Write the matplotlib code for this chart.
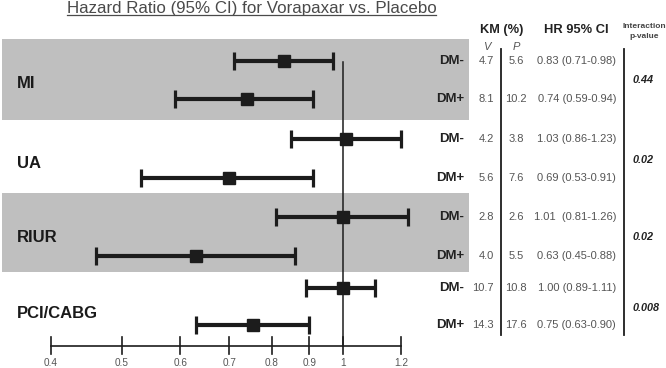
import numpy as np
import matplotlib
matplotlib.use("Agg")
import matplotlib.pyplot as plt
import matplotlib.transforms as mtransforms

plt.rcParams['font.family'] = ['Liberation Sans', 'DejaVu Sans']

# ---------------- data ----------------
groups = ["MI", "UA", "RIUR", "PCI/CABG"]
subgroups = ["DM-", "DM+"]
hr = [0.83, 0.74, 1.01, 0.70, 1.00, 0.63, 1.00, 0.755]
ci_low = [0.71, 0.59, 0.85, 0.53, 0.81, 0.46, 0.89, 0.63]
ci_high = [0.97, 0.91, 1.20, 0.91, 1.225, 0.86, 1.105, 0.90]
km_v = ["4.7", "8.1", "4.2", "5.6", "2.8", "4.0", "10.7", "14.3"]
km_p = ["5.6", "10.2", "3.8", "7.6", "2.6", "5.5", "10.8", "17.6"]
hr_text = ["0.83 (0.71-0.98)", "0.74 (0.59-0.94)", "1.03 (0.86-1.23)",
           "0.69 (0.53-0.91)", "1.01  (0.81-1.26)", "0.63 (0.45-0.88)",
           "1.00 (0.89-1.11)", "0.75 (0.63-0.90)"]
p_interaction = ["0.44", "0.02", "0.02", "0.008"]
xticks = [0.4, 0.5, 0.6, 0.7, 0.8, 0.9, 1, 1.2]
xtick_labels = ["0.4", "0.5", "0.6", "0.7", "0.8", "0.9", "1", "1.2"]

# ---------------- layout (pixel units) ----------------
W, H = 666, 368
row_y = [61, 99, 139, 178, 217, 256, 288, 325]
group_label_y = [83, 163, 238, 313]
pval_y = [80, 160, 237, 308]
bands = [(39, 120), (193, 272)]

fig = plt.figure(figsize=(W / 100, H / 100), dpi=100)
ax = fig.add_axes([0, 0, 1, 1])
ax.set_xscale('log')
# 0.4 -> px 51, 1.0 -> px 343
k = (343 - 51) / np.log(1 / 0.4)
x_lo = 0.4 * np.exp(-51 / k)
x_hi = 0.4 * np.exp((W - 51) / k)
ax.set_xlim(x_lo, x_hi)
ax.set_ylim(H, 0)
ax.axis('off')


def fx(px):
    return px / W


bt = mtransforms.blended_transform_factory(ax.transAxes, ax.transData)
dark = '#1c1c1c'
gray_txt = '#555555'

# bands
for (y0, y1) in bands:
    ax.axhspan(y0, y1, xmin=fx(2), xmax=fx(469), color='#bfbfbf', zorder=0, lw=0)

# reference line at 1
ax.plot([1, 1], [62, 346], color=dark, lw=1.1, zorder=2)

# bottom axis
ax.plot([xticks[0], xticks[-1]], [346, 346], color=dark, lw=1.2, zorder=2)
for t, lab in zip(xticks, xtick_labels):
    ax.plot([t, t], [337, 354], color=dark, lw=1.2, zorder=2)
    ax.text(t, 363, lab, ha='center', va='center', fontsize=7.2, color=gray_txt)

# error bars
xerr = [np.array(hr) - np.array(ci_low), np.array(ci_high) - np.array(hr)]
ax.errorbar(hr, row_y, xerr=xerr, fmt='s', color=dark, ecolor=dark,
            elinewidth=3.0, capsize=6.5, capthick=2.3, markersize=8.5, zorder=3)

# group labels
for g, y in zip(groups, group_label_y):
    ax.text(fx(17), y, g, transform=bt, fontsize=12, fontweight='bold',
            color='#1a1a1a', va='center', ha='left')

# subgroup labels & table
for i, y in enumerate(row_y):
    ax.text(fx(464), y, subgroups[i % 2], transform=bt, fontsize=9.5,
            fontweight='bold', color='#222222', ha='right', va='center')
    ax.text(fx(494), y, km_v[i], transform=bt, fontsize=8, color=gray_txt,
            ha='right', va='center')
    ax.text(fx(516), y, km_p[i], transform=bt, fontsize=8, color=gray_txt,
            ha='center', va='center')
    ax.text(fx(616), y, hr_text[i], transform=bt, fontsize=8, color=gray_txt,
            ha='right', va='center')

for p, y in zip(p_interaction, pval_y):
    ax.text(fx(633), y, p, transform=bt, fontsize=7.8, fontweight='bold',
            fontstyle='italic', color='#222222', ha='left', va='center')

# table separators
ax.plot([fx(501), fx(501)], [49, 335], transform=bt, color=dark, lw=1.3)
ax.plot([fx(624), fx(624)], [49, 335], transform=bt, color=dark, lw=1.3)

# headers
ax.text(fx(501.5), 30, "KM (%)", transform=bt, fontsize=9.2, fontweight='bold',
        color='#222222', ha='center', va='center')
ax.text(fx(576.5), 30, "HR 95% CI", transform=bt, fontsize=9.3, fontweight='bold',
        color='#222222', ha='center', va='center')
ax.text(fx(644.5), 26, "Interaction", transform=bt, fontsize=6, fontweight='bold',
        color='#444444', ha='center', va='center')
ax.text(fx(644.5), 36, "p-value", transform=bt, fontsize=6, fontweight='bold',
        color='#444444', ha='center', va='center')
ax.text(fx(487), 47, "V", transform=bt, fontsize=8, fontstyle='italic',
        color=gray_txt, ha='center', va='center')
ax.text(fx(516), 47, "P", transform=bt, fontsize=8, fontstyle='italic',
        color=gray_txt, ha='center', va='center')

# title with underline
title = ax.text(fx(251.5), 8, "Hazard Ratio (95% CI) for Vorapaxar vs. Placebo",
                transform=bt, fontsize=12.2, color='#4a4a4a', ha='center', va='center')
fig.canvas.draw()
bb = title.get_window_extent()
inv = ax.transAxes.inverted()
(x0, _), (x1, _) = inv.transform([(bb.x0, 0), (bb.x1, 0)])
ax.plot([x0, x1], [15, 15], transform=bt, color='#4a4a4a', lw=0.9)

fig.savefig("out.png", dpi=100)
